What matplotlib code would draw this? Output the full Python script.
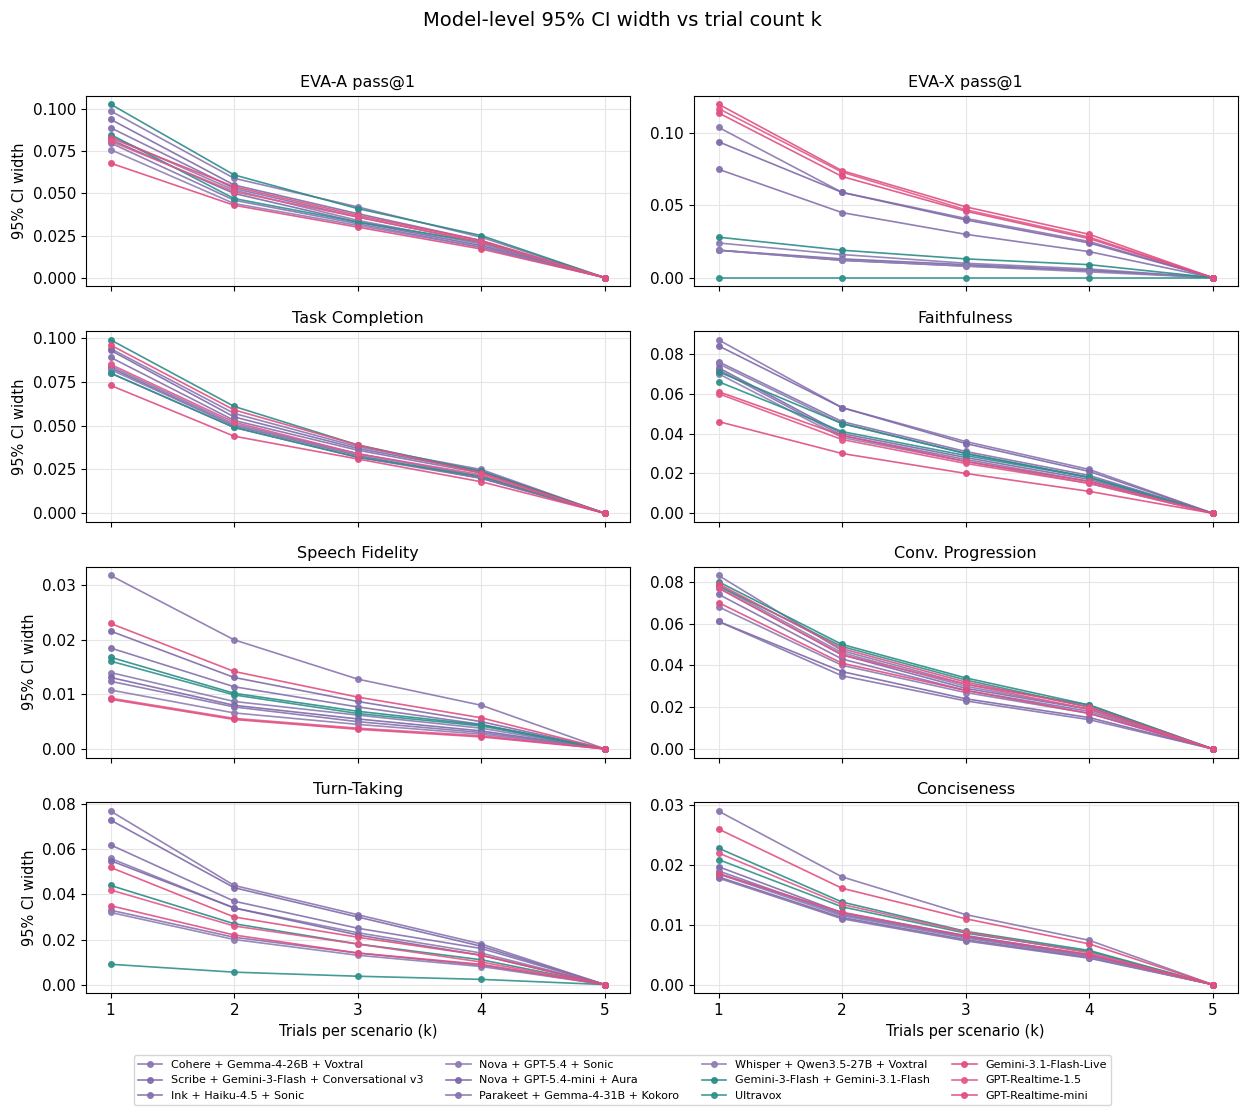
import numpy as np
import matplotlib
matplotlib.use("Agg")
import matplotlib.pyplot as plt
from matplotlib.ticker import MultipleLocator

# ---------------------------------------------
# Datos: ancho del IC 95% por modelo, k = 1..4 (k = 5 siempre 0)

k_vals = [1, 2, 3, 4, 5]

modelos = [
    "Cohere + Gemma-4-26B + Voxtral",
    "Scribe + Gemini-3-Flash + Conversational v3",
    "Ink + Haiku-4.5 + Sonic",
    "Nova + GPT-5.4 + Sonic",
    "Nova + GPT-5.4-mini + Aura",
    "Parakeet + Gemma-4-31B + Kokoro",
    "Whisper + Qwen3.5-27B + Voxtral",
    "Gemini-3-Flash + Gemini-3.1-Flash",
    "Ultravox",
    "Gemini-3.1-Flash-Live",
    "GPT-Realtime-1.5",
    "GPT-Realtime-mini",
]

colores = [
    "#8a76b0", "#7f6aaa", "#8470ad", "#8b7bb2", "#7d68a8", "#8672ae", "#8e7eb4",
    "#2b8c88", "#2f918b",
    "#e0507f", "#e3588a", "#df4f84",
]

eva_a = [
    [0.099, 0.059, 0.042, 0.024],
    [0.094, 0.055, 0.038, 0.022],
    [0.089, 0.053, 0.036, 0.021],
    [0.084, 0.052, 0.034, 0.020],
    [0.082, 0.050, 0.033, 0.019],
    [0.080, 0.046, 0.032, 0.018],
    [0.076, 0.044, 0.031, 0.018],
    [0.103, 0.061, 0.041, 0.025],
    [0.085, 0.047, 0.033, 0.021],
    [0.083, 0.054, 0.037, 0.022],
    [0.081, 0.051, 0.036, 0.021],
    [0.068, 0.043, 0.030, 0.017],
]

eva_x = [
    [0.104, 0.059, 0.041, 0.025],
    [0.094, 0.059, 0.040, 0.024],
    [0.075, 0.045, 0.030, 0.018],
    [0.024, 0.016, 0.010, 0.006],
    [0.019, 0.013, 0.009, 0.005],
    [0.019, 0.012, 0.008, 0.005],
    [0.019, 0.012, 0.008, 0.004],
    [0.028, 0.019, 0.013, 0.009],
    [0.000, 0.000, 0.000, 0.000],
    [0.120, 0.074, 0.049, 0.030],
    [0.117, 0.073, 0.047, 0.028],
    [0.114, 0.070, 0.046, 0.027],
]

task_completion = [
    [0.094, 0.057, 0.038, 0.025],
    [0.093, 0.055, 0.037, 0.024],
    [0.089, 0.053, 0.036, 0.023],
    [0.084, 0.051, 0.034, 0.021],
    [0.083, 0.050, 0.033, 0.020],
    [0.080, 0.049, 0.032, 0.020],
    [0.082, 0.050, 0.034, 0.021],
    [0.099, 0.061, 0.039, 0.024],
    [0.080, 0.049, 0.032, 0.021],
    [0.096, 0.059, 0.039, 0.023],
    [0.085, 0.052, 0.034, 0.022],
    [0.073, 0.044, 0.031, 0.018],
]

faithfulness = [
    [0.087, 0.053, 0.036, 0.022],
    [0.084, 0.053, 0.035, 0.021],
    [0.076, 0.046, 0.031, 0.019],
    [0.075, 0.045, 0.030, 0.018],
    [0.073, 0.040, 0.028, 0.017],
    [0.072, 0.039, 0.027, 0.016],
    [0.070, 0.038, 0.026, 0.015],
    [0.071, 0.045, 0.030, 0.018],
    [0.066, 0.041, 0.029, 0.018],
    [0.061, 0.039, 0.026, 0.016],
    [0.060, 0.037, 0.025, 0.015],
    [0.046, 0.030, 0.020, 0.011],
]

speech_fidelity = [
    [0.0318, 0.0200, 0.0128, 0.0080],
    [0.0216, 0.0131, 0.0087, 0.0050],
    [0.0185, 0.0114, 0.0077, 0.0045],
    [0.0140, 0.0087, 0.0062, 0.0038],
    [0.0131, 0.0080, 0.0055, 0.0033],
    [0.0124, 0.0077, 0.0050, 0.0030],
    [0.0108, 0.0066, 0.0045, 0.0027],
    [0.0168, 0.0102, 0.0069, 0.0044],
    [0.0161, 0.0099, 0.0065, 0.0042],
    [0.0230, 0.0142, 0.0095, 0.0057],
    [0.0093, 0.0056, 0.0038, 0.0024],
    [0.0091, 0.0054, 0.0036, 0.0022],
]

conv_progression = [
    [0.083, 0.047, 0.031, 0.021],
    [0.077, 0.045, 0.029, 0.019],
    [0.074, 0.043, 0.028, 0.018],
    [0.068, 0.040, 0.027, 0.017],
    [0.061, 0.037, 0.024, 0.015],
    [0.061, 0.035, 0.023, 0.014],
    [0.078, 0.046, 0.030, 0.019],
    [0.080, 0.050, 0.034, 0.021],
    [0.078, 0.049, 0.033, 0.020],
    [0.079, 0.048, 0.032, 0.020],
    [0.077, 0.045, 0.031, 0.019],
    [0.070, 0.041, 0.028, 0.017],
]

turn_taking = [
    [0.077, 0.044, 0.031, 0.018],
    [0.073, 0.043, 0.030, 0.017],
    [0.062, 0.037, 0.025, 0.016],
    [0.056, 0.034, 0.023, 0.014],
    [0.055, 0.034, 0.022, 0.013],
    [0.033, 0.021, 0.014, 0.0085],
    [0.032, 0.020, 0.013, 0.008],
    [0.044, 0.027, 0.018, 0.011],
    [0.009, 0.0055, 0.0037, 0.0023],
    [0.052, 0.030, 0.021, 0.013],
    [0.042, 0.026, 0.018, 0.010],
    [0.035, 0.022, 0.014, 0.009],
]

conciseness = [
    [0.0290, 0.0180, 0.0117, 0.0074],
    [0.0197, 0.0120, 0.0082, 0.0050],
    [0.0190, 0.0117, 0.0080, 0.0048],
    [0.0185, 0.0115, 0.0078, 0.0047],
    [0.0180, 0.0112, 0.0075, 0.0045],
    [0.0178, 0.0110, 0.0073, 0.0044],
    [0.0186, 0.0118, 0.0079, 0.0046],
    [0.0228, 0.0138, 0.0089, 0.0057],
    [0.0209, 0.0130, 0.0086, 0.0055],
    [0.0260, 0.0161, 0.0110, 0.0068],
    [0.0220, 0.0134, 0.0088, 0.0053],
    [0.0185, 0.0121, 0.0081, 0.0050],
]

# (titulo, datos, paso de ticks en y)
paneles = [
    ("EVA-A pass@1", eva_a, 0.025),
    ("EVA-X pass@1", eva_x, 0.05),
    ("Task Completion", task_completion, 0.025),
    ("Faithfulness", faithfulness, 0.02),
    ("Speech Fidelity", speech_fidelity, 0.01),
    ("Conv. Progression", conv_progression, 0.02),
    ("Turn-Taking", turn_taking, 0.02),
    ("Conciseness", conciseness, 0.01),
]

# ---------------------------------------------

fig, axes = plt.subplots(4, 2, figsize=(12.45, 11.11), dpi=100, sharex=True)
fig.subplots_adjust(left=0.069, right=0.994, top=0.914, bottom=0.106, wspace=0.118, hspace=0.235)

for i, (titulo, datos, paso) in enumerate(paneles):
    ax = axes[i // 2, i % 2]
    for j, nombre in enumerate(modelos):
        y = list(datos[j]) + [0.0]
        ax.plot(k_vals, y, marker='o', markersize=4, linewidth=1.2,
                color=colores[j], alpha=0.9, label=nombre)
    ax.yaxis.set_major_locator(MultipleLocator(paso))
    ax.set_title(titulo, fontsize=11.5)
    ax.grid(True, color='#e6e6e6', linewidth=0.8)
    ax.set_axisbelow(True)
    ax.tick_params(labelsize=11)
    if i % 2 == 0:
        ax.set_ylabel("95% CI width", fontsize=10.5)
    if i >= 6:
        ax.set_xlabel("Trials per scenario (k)", fontsize=10.5)

axes[0, 0].set_xticks(k_vals)

handles, labels = axes[0, 0].get_legend_handles_labels()
fig.legend(handles, labels, loc='lower center', bbox_to_anchor=(0.5, 0.0), ncol=4,
           fontsize=8, frameon=True, handlelength=2.2, columnspacing=2.0)

fig.suptitle("Model-level 95% CI width vs trial count k", fontsize=14, y=0.99)

fig.savefig("out.png", dpi=100)
